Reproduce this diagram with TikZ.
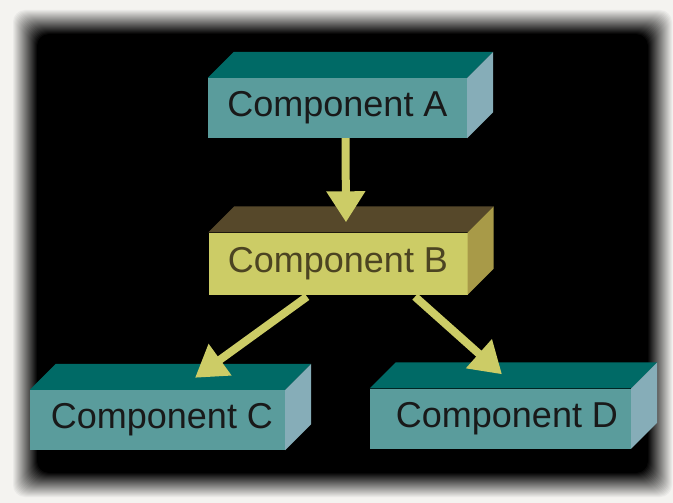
\documentclass[tikz,border=0pt]{standalone}
\usepackage{fontspec}
\setmainfont{Liberation Sans}
\usepackage{tikz}
\usetikzlibrary{arrows.meta}
\usetikzlibrary{positioning}

\definecolor{paper}{HTML}{F4F3F0}
\definecolor{tealfront}{HTML}{5A9C9C}
\definecolor{tealtop}{HTML}{006A66}
\definecolor{tealside}{HTML}{86ADB8}
\definecolor{olivefront}{HTML}{CCCC66}
\definecolor{olivetop}{HTML}{56482A}
\definecolor{oliveside}{HTML}{A89A48}
\definecolor{olivetext}{HTML}{4C4422}

\begin{document}
\begin{tikzpicture}
    [
    x=1pt, y=-1pt,
    block/.style={rectangle,inner sep=0pt,minimum width=259pt,minimum height=60pt,
      font=\fontsize{36}{40}\selectfont},
    teal/.style={fill=tealfront,text=black!90},
    olive/.style={fill=olivefront,text=olivetext,minimum height=62pt},
    flow/.style={draw=olivefront,line width=8pt,-{Triangle[length=31pt,width=37pt]}},
    ]
    \useasboundingbox (0,0) rectangle (673,503);
    \fill [paper] (0,0) rectangle (673,503);
    % soft black panel
    \foreach \i in {0,...,25}
      \fill [black!\the\numexpr\i*4\relax!paper, rounded corners=12pt]
        (12+\i,9+\i) rectangle (673-\i,498-\i);

    \node (a) at (337.5,108) [block, teal] {Component A};
    \node (b) at (338,263.5) [block, olive] {Component B};
    \node (c) at (157.5,420) [block, teal, minimum width=255pt] {\hspace{9pt}Component C};
    \node (d) at (500.5,418.5) [block, teal, minimum width=261pt] {\hspace{13pt}Component D};

    \foreach \n/\t/\s in {a/tealtop/tealside, b/olivetop/oliveside,
                          c/tealtop/tealside, d/tealtop/tealside}
    {
      \fill [\t] (\n.north west) -- ++(26,-26) -- ([shift={(26,-26)}]\n.north east)
        -- (\n.north east) -- cycle;
      \fill [\s] (\n.north east) -- ++(26,-26) -- ([shift={(26,-26)}]\n.south east)
        -- (\n.south east) -- cycle;
    }

    \draw [flow] ([xshift=8pt]a.south) to ([xshift=8pt,yshift=10pt]b.north);
    \draw [flow] ([xshift=-31pt,yshift=-2pt]b.south) to ([xshift=37.5pt,yshift=12pt]c.north);
    \draw [flow] ([xshift=77pt,yshift=-2pt]b.south) to ([xshift=1.5pt,yshift=14pt]d.north);
  \end{tikzpicture}
\end{document}
